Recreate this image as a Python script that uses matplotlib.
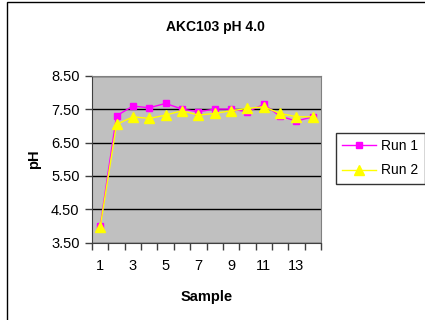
import matplotlib
matplotlib.use('agg')
import numpy as np
import matplotlib.pyplot as plt
from matplotlib.patches import Rectangle

plt.rcParams['font.family'] = ['Liberation Sans', 'DejaVu Sans']

samples = list(range(1, 15))
run1 = [4.00, 7.30, 7.59, 7.54, 7.67, 7.50, 7.42, 7.50, 7.50, 7.42, 7.64, 7.29, 7.14, 7.27]
run2 = [3.97, 7.04, 7.27, 7.22, 7.32, 7.45, 7.32, 7.37, 7.45, 7.52, 7.57, 7.37, 7.27, 7.27]
yticks = [3.5, 4.5, 5.5, 6.5, 7.5, 8.5]
xlabels = [1, 3, 5, 7, 9, 11, 13]

fig = plt.figure(figsize=(4.25, 3.2), dpi=100)
fig.patches.append(Rectangle((7.3/425, -0.1), 1.2, 318/320 + 0.1,
                             transform=fig.transFigure, fill=False,
                             edgecolor='black', linewidth=1.0))

ax = fig.add_axes([92/425, (320-242.7)/320, 229/425, 167/320])
ax.set_facecolor('#C0C0C0')

ax.plot(samples, run1, color='#FF00FF', marker='s', markersize=5, linewidth=1, label='Run 1', zorder=3)
ax.plot(samples, run2, color='#FFFF00', marker='^', markersize=6.5, linewidth=1, label='Run 2', zorder=4)

ax.set_ylim(3.5, 8.5)
ax.set_yticks(yticks)
ax.set_yticklabels(['%.2f' % v for v in yticks], fontsize=10.5)
ax.yaxis.grid(True, color='black', linewidth=1)
ax.set_axisbelow(True)

ax.set_xlim(0.5, 14.5)
ax.set_xticks(np.arange(0.5, 15, 1))
ax.set_xticklabels([])
ax.set_xticks(xlabels, minor=True)
ax.set_xticklabels([str(v) for v in xlabels], minor=True, fontsize=10.5)
ax.tick_params(axis='x', which='minor', length=0, pad=12)
ax.tick_params(axis='y', pad=4)
ax.tick_params(axis='both', which='major', length=5, width=1, color='#404040', direction='out')

for s in ['top', 'right']:
    ax.spines[s].set_color('#808080')
ax.spines['left'].set_color('#404040')
ax.spines['bottom'].set_color('#404040')

ax.set_xlabel('Sample', fontsize=10.5, fontweight='bold', labelpad=12)
ax.set_ylabel('pH', fontsize=10.5, fontweight='bold', labelpad=7)
fig.text(215/425, 1 - 27/320, 'AKC103 pH 4.0', ha='center', va='center',
         fontsize=10, fontweight='bold')

leg = ax.legend(loc='upper left', bbox_to_anchor=(336/425, 1 - 132.7/320),
                bbox_transform=fig.transFigure, fontsize=10, frameon=True,
                fancybox=False, handlelength=2.4, handletextpad=0.4,
                borderpad=0.45, borderaxespad=0, labelspacing=0.75)
leg.get_frame().set_edgecolor('black')
leg.get_frame().set_linewidth(1)

fig.savefig('out.png', dpi=100)
